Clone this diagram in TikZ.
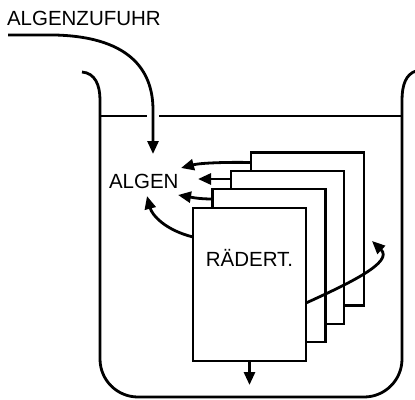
\documentclass[tikz,border=0pt]{standalone}
\usepackage{fontspec}
\setmainfont{Liberation Sans}
\usetikzlibrary{arrows.meta}
\begin{document}
\begin{tikzpicture}[x=1pt,y=-1pt,
  line width=2.8pt,
  lbl/.style={inner sep=0pt,outer sep=0pt,font=\fontsize{20.5}{24}\selectfont},
  page/.style={draw,fill=white,minimum width=113pt,minimum height=153pt,inner sep=0pt,outer sep=0pt},
  arr/.style={-{Triangle[length=13pt,width=11pt]}}]
\useasboundingbox (0,0) rectangle (415,399);
% vessel
\draw (82,72) .. controls (95,73) and (100,85) .. (100,100)
  -- (100,359) .. controls (100,380) and (117,397) .. (138,397)
  -- (364,397) .. controls (385,397) and (402,380) .. (402,359)
  -- (402,100) .. controls (402,85) and (406,74) .. (416,71);
% water line
\draw (100,116) -- (147,116);
\draw (159,116) -- (402,116);
% labels
\node[lbl,anchor=base west] (zuf) at (7,25) {ALGENZUFUHR};
\node[lbl,anchor=base west] (algen) at (109,188) {ALGEN};
% supply
\coordinate (s0) at (8,35);
\coordinate (s1) at (153,154);
\draw[arr] (s0) -- (55,35) .. controls (135,37) and (153,75) .. (153,110) -- (s1);
% pages
\node[page] (p4) at (307.5,229) {};
\node[page] (p3) at (287.5,247.5) {};
\node[page] (p2) at (269,265.5) {};
\node[page] (p1) at (249.5,284.5) {};
\node[lbl,anchor=base] (rad) at (249.5,266) {RÄDERT.};
% arrows to ALGEN
\coordinate (t1) at (181,168);
\coordinate (t2) at (198,179);
\coordinate (t3) at (178,195);
\coordinate (t4) at (147,196);
\draw[arr] ([yshift=-10pt]p4.north west) .. controls (225,162) and (200,163) .. (t1);
\draw[arr] ([yshift=-8pt]p3.north west) -- (t2);
\draw[arr] ([yshift=-10pt]p2.north west) .. controls (198,199) and (190,197) .. (t3);
\draw[arr] ([yshift=-29pt]p1.north west) .. controls (165,230) and (152,215) .. (t4);
% outflow
\coordinate (t5) at (249.5,385);
\draw[arr] (p1.south) -- (t5);
% recirculation
\coordinate (t6) at (372,241);
\draw[arr] ([yshift=-95pt]p1.north east) .. controls (350,283) and (394,262) .. (t6);
\end{tikzpicture}
\end{document}
